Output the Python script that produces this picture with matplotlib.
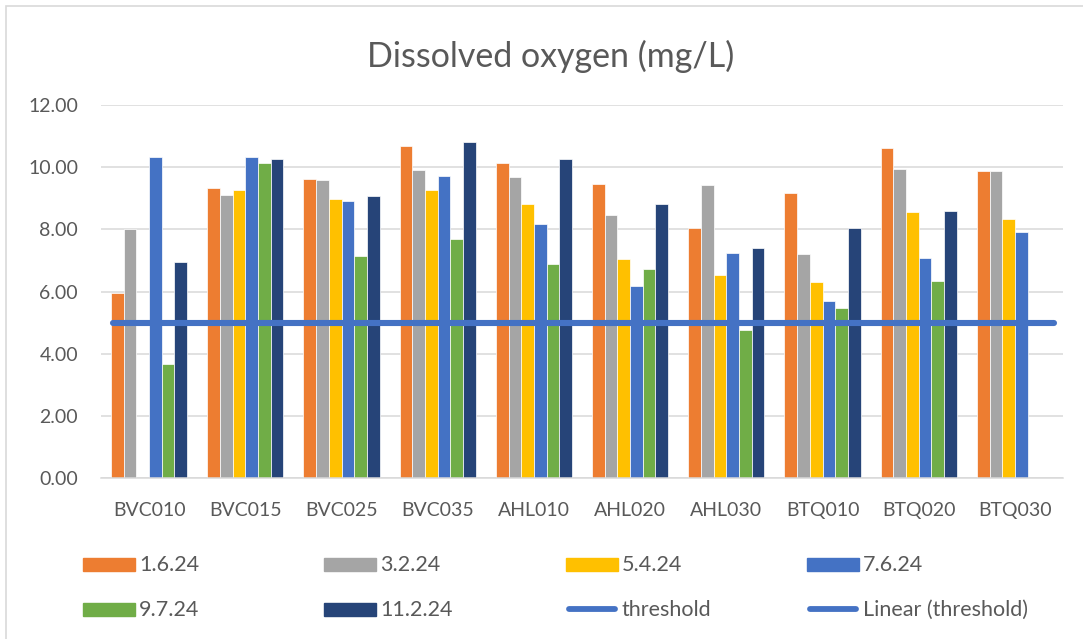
import matplotlib
matplotlib.use("Agg")
import matplotlib.pyplot as plt
import numpy as np
from matplotlib.patches import Rectangle
from matplotlib.lines import Line2D

plt.rcParams["font.family"] = ["Lato", "DejaVu Sans"]

sites = ["BVC010", "BVC015", "BVC025", "BVC035", "AHL010",
         "AHL020", "AHL030", "BTQ010", "BTQ020", "BTQ030"]
dates = ["1.6.24", "3.2.24", "5.4.24", "7.6.24", "9.7.24", "11.2.24"]

do_1_6_24 = [5.96, 9.32, 9.63, 10.69, 10.14, 9.46, 8.04, 9.16, 10.62, 9.88]
do_3_2_24 = [8.02, 9.11, 9.59, 9.90, 9.70, 8.47, 9.43, 7.21, 9.95, 9.88]
do_5_4_24 = [np.nan, 9.27, 8.98, 9.27, 8.83, 7.04, 6.54, 6.31, 8.55, 8.34]
do_7_6_24 = [10.33, 10.33, 8.90, 9.72, 8.19, 6.18, 7.23, 5.69, 7.09, 7.93]
do_9_7_24 = [3.67, 10.15, 7.16, 7.68, 6.90, 6.72, 4.78, 5.47, 6.33, np.nan]
do_11_2_24 = [6.96, 10.27, 9.07, 10.80, 10.27, 8.82, 7.40, 8.06, 8.58, np.nan]
threshold = 5.0

series = [do_1_6_24, do_3_2_24, do_5_4_24, do_7_6_24, do_9_7_24, do_11_2_24]
colors = ["#ED7D31", "#A5A5A5", "#FFC000", "#4472C4", "#70AD47", "#264478"]
line_color = "#4472C4"
text_color = "#595959"
grid_color = "#D9D9D9"

W, H = 1083, 639
fig = plt.figure(figsize=(W / 100, H / 100), dpi=100)


def fx(px):
    return px / W


def fy(py):
    return 1 - py / H


# chart-area border (runs off the right/bottom of the picture)
fig.add_artist(Rectangle((fx(6), fy(700)), fx(1200), 694 / H, transform=fig.transFigure,
                         fill=False, edgecolor=grid_color, linewidth=1.2))

ax = fig.add_axes([fx(101), fy(478.3), fx(1063) - fx(101), fy(105) - fy(478.3)])

x = np.arange(len(sites))
bw = 0.132
for i, (vals, c) in enumerate(zip(series, colors)):
    offs = (i - 2.5) * bw
    ax.bar(x + offs, vals, width=bw, color=c, edgecolor="white", linewidth=0.5, zorder=2)

ax.axhline(threshold, xmin=0.012, xmax=0.991, color=line_color, linewidth=4.4,
           solid_capstyle="round", zorder=3)

ax.set_xlim(-0.5, len(sites) - 0.5)
ax.set_ylim(0, 12)
ax.set_yticks(np.arange(0, 12.01, 2))
ax.set_yticklabels([f"{v:.2f}" for v in np.arange(0, 12.01, 2)])
ax.set_xticks(x)
ax.set_xticklabels(sites)
ax.tick_params(axis="both", length=0, labelsize=14, colors=text_color)
ax.tick_params(axis="y", pad=16.5)
ax.tick_params(axis="x", pad=17)
ax.grid(axis="y", color=grid_color, linewidth=1.1, zorder=0)
ax.set_axisbelow(True)
for s in ["top", "right", "left"]:
    ax.spines[s].set_visible(False)
ax.spines["bottom"].set_color(grid_color)
ax.spines["bottom"].set_linewidth(1.1)

fig.text(fx(551), fy(67), "Dissolved oxygen (mg/L)", ha="center", va="baseline",
         fontsize=24.5, color=text_color)

# legend laid out like Excel's fixed-width grid
labels = dates + ["threshold", "Linear (threshold)"]
col_x = [83, 324, 566, 807]
row_y = [564, 609]
for k, lab in enumerate(labels):
    cx = col_x[k % 4]
    cy = row_y[k // 4]
    if k < len(dates):
        fig.add_artist(Rectangle((fx(cx), fy(cy + 6.5)), fx(52), 13 / H,
                                 transform=fig.transFigure, color=colors[k]))
    else:
        fig.add_artist(Line2D([fx(cx + 3), fx(cx + 49)], [fy(cy), fy(cy)],
                              transform=fig.transFigure, color=line_color,
                              linewidth=4.2, solid_capstyle="round"))
    fig.text(fx(cx + 56), fy(cy + 1), lab, ha="left", va="center", fontsize=15.5,
             color=text_color)

fig.savefig("out.png", dpi=100)
